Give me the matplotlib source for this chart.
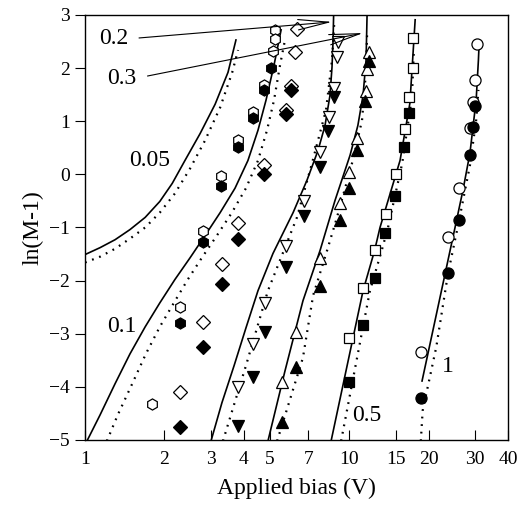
import matplotlib
matplotlib.use("Agg")
import matplotlib.pyplot as plt
from matplotlib.ticker import FixedLocator, NullLocator

plt.rcParams['font.family'] = ['Liberation Serif', 'DejaVu Serif']

# measured points: applied bias (V) and ln(M-1), open / filled symbols per width
hex_open_v = [5.24, 5.24, 5.15, 4.76, 4.33, 3.80, 3.27, 2.80, 2.29, 1.79]
hex_open_y = [2.72, 2.55, 2.32, 1.68, 1.17, 0.64, -0.04, -1.06, -2.49, -4.32]
hex_fill_v = [5.06, 4.76, 4.33, 3.80, 3.27, 2.80, 2.29]
hex_fill_y = [2.00, 1.58, 1.06, 0.51, -0.21, -1.28, -2.79]

dia_open_v = [6.35, 6.24, 6.03, 5.77, 4.76, 3.80, 3.30, 2.80, 2.29]
dia_open_y = [2.74, 2.30, 1.66, 1.21, 0.17, -0.91, -1.68, -2.77, -4.09]
dia_fill_v = [6.03, 5.77, 4.76, 3.80, 3.30, 2.80, 2.29]
dia_fill_y = [1.58, 1.13, 0.00, -1.21, -2.06, -3.25, -4.75]

tdn_open_v = [9.09, 9.01, 8.77, 8.40, 7.77, 6.75, 5.77, 4.81, 4.33, 3.80]
tdn_open_y = [2.49, 2.21, 1.62, 1.08, 0.42, -0.51, -1.34, -2.43, -3.19, -4.00]
tdn_fill_v = [8.77, 8.33, 7.77, 6.75, 5.77, 4.81, 4.33, 3.80]
tdn_fill_y = [1.45, 0.81, 0.13, -0.79, -1.75, -2.96, -3.81, -4.74]

tup_open_v = [11.9, 11.7, 11.6, 10.7, 10.0, 9.25, 7.77, 6.30, 5.57]
tup_open_y = [2.30, 1.98, 1.57, 0.68, 0.04, -0.53, -1.58, -2.96, -3.91]
tup_fill_v = [11.9, 11.5, 10.7, 10.0, 9.25, 7.77, 6.30, 5.57]
tup_fill_y = [2.13, 1.38, 0.45, -0.25, -0.85, -2.11, -3.62, -4.66]

sq_open_v = [17.5, 17.5, 16.9, 16.3, 15.1, 13.8, 12.5, 11.3, 10.0]
sq_open_y = [2.57, 2.00, 1.45, 0.85, 0.00, -0.74, -1.42, -2.13, -3.08]
sq_fill_v = [16.9, 16.2, 14.9, 13.7, 12.5, 11.3, 10.0]
sq_fill_y = [1.15, 0.51, -0.40, -1.11, -1.96, -2.83, -3.91]

circ_open_v = [30.5, 30.0, 29.5, 28.7, 26.1, 23.7, 18.7]
circ_open_y = [2.45, 1.77, 1.36, 0.87, -0.26, -1.17, -3.34]
circ_fill_v = [30.0, 29.5, 28.7, 26.1, 23.7, 18.7]
circ_fill_y = [1.28, 0.89, 0.36, -0.85, -1.85, -4.21]

# model curves (solid and dotted) for each multiplication width
c005_v = [1.00, 1.14, 1.30, 1.48, 1.69, 1.92, 2.14, 2.39, 2.73, 3.11, 3.48, 3.73]
c005_y = [-1.51, -1.38, -1.23, -1.04, -0.81, -0.51, -0.17, 0.26, 0.77, 1.32, 1.92, 2.53]
d005_v = [1.00, 1.14, 1.30, 1.48, 1.69, 1.92, 2.19, 2.50, 2.85, 3.25, 3.61, 3.80]
d005_y = [-1.66, -1.55, -1.40, -1.21, -1.00, -0.72, -0.36, 0.11, 0.64, 1.26, 1.92, 2.34]

c01_v = [1.017, 1.14, 1.30, 1.48, 1.69, 1.92, 2.19, 2.50, 2.85, 3.25, 3.70, 4.14,
         4.52, 4.85, 5.20, 5.53]
c01_y = [-5.02, -4.53, -3.94, -3.38, -2.87, -2.42, -1.98, -1.57, -1.15, -0.72, -0.26,
         0.26, 0.83, 1.40, 2.06, 2.72]
d01_v = [1.21, 1.33, 1.51, 1.70, 1.92, 2.17, 2.45, 2.77, 3.16, 3.60, 4.07, 4.52,
         4.89, 5.20, 5.48, 5.72]
d01_y = [-5.02, -4.53, -3.94, -3.38, -2.87, -2.42, -1.98, -1.57, -1.15, -0.72, -0.26,
         0.26, 0.83, 1.40, 2.06, 2.53]

c02_v = [3.00, 3.30, 3.67, 4.07, 4.52, 5.15, 6.14, 6.93, 7.63, 8.11, 8.47, 8.62, 8.70, 8.74]
c02_y = [-5.02, -4.30, -3.60, -2.89, -2.19, -1.49, -0.72, -0.11, 0.45, 0.92, 1.49, 2.02,
         2.53, 2.98]
d02_v = [3.33, 4.07, 4.93, 6.35, 7.24, 8.18, 8.62, 8.78]
d02_y = [-5.02, -3.60, -2.19, -0.81, 0.21, 1.21, 2.15, 2.81]

c03_v = [4.93, 5.72, 6.69, 7.77, 8.85, 10.09, 10.8, 11.3, 11.6, 11.7]
c03_y = [-5.02, -3.70, -2.38, -1.43, -0.49, 0.36, 0.92, 1.49, 2.15, 2.98]
d03_v = [5.34, 6.69, 7.31, 8.26, 9.00, 10.33, 11.2, 11.6, 11.7]
d03_y = [-5.02, -3.45, -2.28, -1.43, -0.81, 0.26, 1.02, 1.96, 2.62]

c05_v = [8.55, 11.3, 12.5, 13.1, 15.6, 17.0, 17.8]
c05_y = [-5.02, -2.19, -1.43, -1.00, 0.26, 1.34, 2.91]
d05_v = [9.33, 12.0, 13.3, 14.05, 15.9, 17.3, 17.6]
d05_y = [-5.02, -2.19, -1.43, -1.00, 0.21, 1.45, 2.34]

c1_v = [18.9, 22.1, 25.2, 27.0, 28.7, 30.3, 30.9, 31.1]
c1_y = [-3.89, -2.32, -1.00, -0.30, 0.40, 1.40, 2.15, 2.47]
d1_v = [18.7, 19.0, 21.4, 23.7, 26.1, 28.7, 30.3, 30.9]
d1_y = [-5.02, -4.45, -3.25, -1.87, -0.87, 0.17, 1.02, 1.59]

fig = plt.figure(figsize=(5.26, 5.08), dpi=100)
ax = fig.add_axes([0.1616, 0.1339, 0.8042, 0.8366])

curves = [(c005_v, c005_y, d005_v, d005_y), (c01_v, c01_y, d01_v, d01_y),
          (c02_v, c02_y, d02_v, d02_y), (c03_v, c03_y, d03_v, d03_y),
          (c05_v, c05_y, d05_v, d05_y), (c1_v, c1_y, d1_v, d1_y)]
for cv, cy, dv, dy in curves:
    ax.plot(cv, cy, color='black', lw=1.2)
    ax.plot(dv, dy, color='black', lw=1.6, linestyle=(0, (0.8, 2.6)))

sets = [('h', 8, hex_open_v, hex_open_y, hex_fill_v, hex_fill_y),
        ('D', 7, dia_open_v, dia_open_y, dia_fill_v, dia_fill_y),
        ('v', 8, tdn_open_v, tdn_open_y, tdn_fill_v, tdn_fill_y),
        ('^', 8, tup_open_v, tup_open_y, tup_fill_v, tup_fill_y),
        ('s', 7, sq_open_v, sq_open_y, sq_fill_v, sq_fill_y),
        ('o', 8, circ_open_v, circ_open_y, circ_fill_v, circ_fill_y)]
for mk, ms, ov, oy, fv, fy in sets:
    ax.plot(ov, oy, mk, ms=ms, mfc='white', mec='black', mew=0.9, zorder=3)
    ax.plot(fv, fy, mk, ms=ms, mfc='black', mec='black', mew=0.9, zorder=4)

ax.set_xscale('log')
ax.set_xlim(1, 40)
ax.set_ylim(-5, 3)

xt = [1, 2, 3, 4, 5, 7, 10, 15, 20, 30, 40]
ax.xaxis.set_major_locator(FixedLocator(xt))
ax.xaxis.set_minor_locator(NullLocator())
ax.set_xticklabels([str(t) for t in xt])
ax.set_yticks(range(-5, 4))
ax.tick_params(axis='x', direction='in', length=7, width=0.8, labelsize=14, pad=8)
ax.tick_params(axis='y', direction='out', length=7, width=0.8, labelsize=14, pad=4)
for s in ax.spines.values():
    s.set_linewidth(1.0)

ax.set_xlabel('Applied bias (V)', fontsize=17, labelpad=7)
ax.set_ylabel('ln(M-1)', fontsize=17, labelpad=4)

# width labels
lab = dict(fontsize=17, ha='center', va='center')
ax.text(1.76, 0.26, '0.05', **lab)
ax.text(1.38, -2.86, '0.1', **lab)
ax.text(11.7, -4.53, '0.5', **lab)
ax.text(23.7, -3.62, '1', **lab)
arr = dict(arrowstyle='->,head_length=1.3,head_width=0.22', lw=0.8, color='black',
           shrinkA=6, shrinkB=0, relpos=(1.0, 0.5))
ax.annotate('0.2', xy=(8.62, 2.87), xytext=(1.28, 2.55), ha='center', va='center',
            fontsize=17, arrowprops=arr)
ax.annotate('0.3', xy=(11.3, 2.66), xytext=(1.38, 1.81), ha='center', va='center',
            fontsize=17, arrowprops=arr)

fig.savefig('out.png', dpi=100)
